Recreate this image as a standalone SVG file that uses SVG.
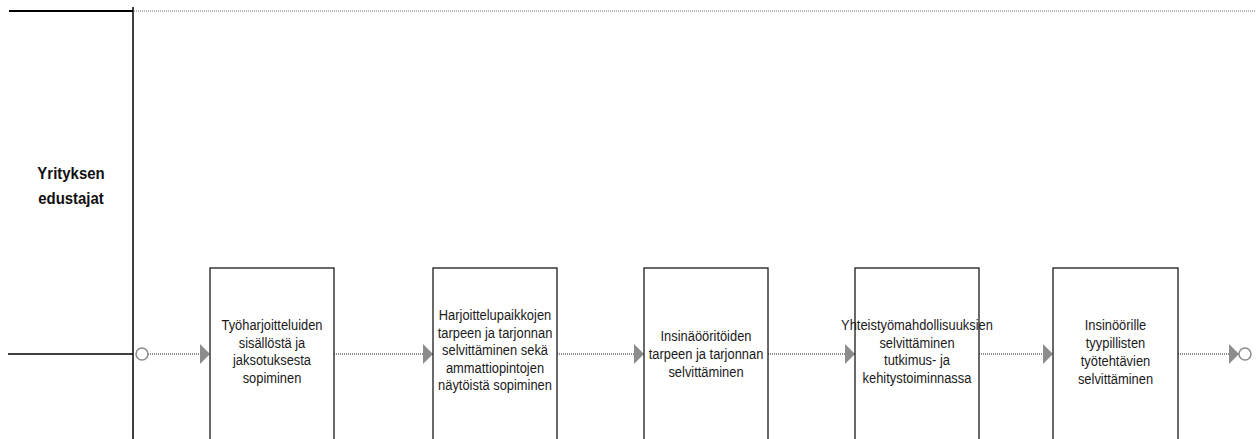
<svg xmlns="http://www.w3.org/2000/svg" width="1260" height="439" viewBox="0 0 1260 439">
<style>
.lane{stroke:#000;fill:none}
.box{fill:#fff;stroke:#1a1a1a;stroke-width:1.3}
.t{font-family:"Liberation Sans",Arial,sans-serif;font-size:15px;fill:#1a1a1a;text-anchor:middle}
.lbl{font-family:"Liberation Sans",Arial,sans-serif;font-size:17px;font-weight:bold;fill:#111;text-anchor:middle}
.flow{stroke:#8c8c8c;stroke-width:2;stroke-dasharray:1 1;fill:none}
.ev{fill:#fff;stroke:#8c8c8c;stroke-width:1.5}
</style>
<defs>
<marker id="ah" markerUnits="userSpaceOnUse" markerWidth="10" markerHeight="22" refX="10" refY="11" orient="auto" viewBox="0 0 10 22">
<polygon points="0,1 10,11 0,21" fill="#8c8c8c"/>
</marker>
</defs>
<g id="lane">
<line class="lane" x1="9" y1="11" x2="133" y2="11" stroke-width="2"/>
<line class="lane" x1="133" y1="7" x2="133" y2="439" stroke-width="1.5"/>
<line x1="134" y1="11" x2="1256" y2="11" stroke="#777" stroke-width="1.2" stroke-dasharray="1 1"/>
<line class="lane" x1="8" y1="354" x2="133" y2="354" stroke-width="1.5"/>
<g transform="translate(71 0) scale(0.88 1)">
<text class="lbl" x="0" y="179">Yrityksen</text>
<text class="lbl" x="0" y="204">edustajat</text>
</g>
</g>
<g id="connectors">
<line class="flow" x1="148" y1="354" x2="210" y2="354" marker-end="url(#ah)"/>
<line class="flow" x1="334" y1="354" x2="433" y2="354" marker-end="url(#ah)"/>
<line class="flow" x1="557" y1="354" x2="644" y2="354" marker-end="url(#ah)"/>
<line class="flow" x1="768" y1="354" x2="855" y2="354" marker-end="url(#ah)"/>
<line class="flow" x1="979" y1="354" x2="1053" y2="354" marker-end="url(#ah)"/>
<line class="flow" x1="1178" y1="354" x2="1239" y2="354" marker-end="url(#ah)"/>
</g>
<g id="start"><circle class="ev" cx="142" cy="354" r="6"/></g>
<g id="end"><circle class="ev" cx="1245" cy="354" r="6"/></g>
<g id="n1">
<rect class="box" x="210" y="268" width="124" height="180"/>
<g transform="translate(272 0) scale(0.86 1)">
<text class="t" x="0" y="330.5">Työharjoitteluiden</text>
<text class="t" x="0" y="348">sisällöstä ja</text>
<text class="t" x="0" y="365.5">jaksotuksesta</text>
<text class="t" x="0" y="383">sopiminen</text>
</g>
</g>
<g id="n2">
<rect class="box" x="433" y="268" width="124" height="180"/>
<g transform="translate(495 0) scale(0.86 1)">
<text class="t" x="0" y="320.5">Harjoittelupaikkojen</text>
<text class="t" x="0" y="338">tarpeen ja tarjonnan</text>
<text class="t" x="0" y="355.5">selvittäminen sekä</text>
<text class="t" x="0" y="373">ammattiopintojen</text>
<text class="t" x="0" y="390.5">näytöistä sopiminen</text>
</g>
</g>
<g id="n3">
<rect class="box" x="644" y="268" width="124" height="180"/>
<g transform="translate(706 0) scale(0.86 1)">
<text class="t" x="0" y="341">Insinäööritöiden</text>
<text class="t" x="0" y="359">tarpeen ja tarjonnan</text>
<text class="t" x="0" y="377">selvittäminen</text>
</g>
</g>
<g id="n4">
<rect class="box" x="855" y="268" width="124" height="180"/>
<g transform="translate(917 0) scale(0.86 1)">
<text class="t" x="0" y="330.5">Yhteistyömahdollisuuksien</text>
<text class="t" x="0" y="348">selvittäminen</text>
<text class="t" x="0" y="365.5">tutkimus- ja</text>
<text class="t" x="0" y="383">kehitystoiminnassa</text>
</g>
</g>
<g id="n5">
<rect class="box" x="1053" y="268" width="125" height="180"/>
<g transform="translate(1115.5 0) scale(0.86 1)">
<text class="t" x="0" y="330.5">Insinöörille</text>
<text class="t" x="0" y="348.5">tyypillisten</text>
<text class="t" x="0" y="366.5">työtehtävien</text>
<text class="t" x="0" y="384.5">selvittäminen</text>
</g>
</g>
</svg>
